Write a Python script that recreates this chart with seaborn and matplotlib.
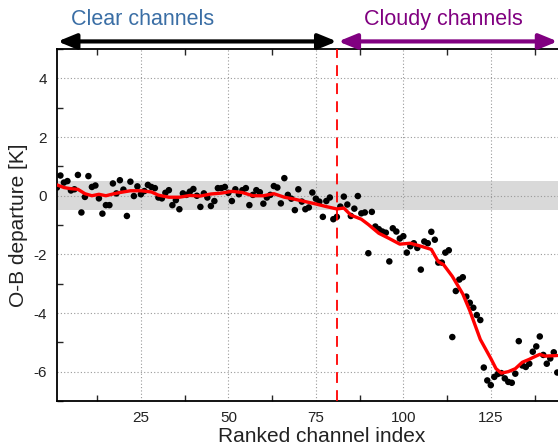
import matplotlib
matplotlib.use('Agg')
import matplotlib.pyplot as plt
import numpy as np
import pandas as pd
import seaborn as sns
from matplotlib.ticker import MultipleLocator

# O-B departures per ranked channel (black dots)
channels = np.arange(1, 145)
departures = [
    0.28, 0.69, 0.45, 0.50, 0.18, 0.22, 0.71, -0.57, -0.04, 0.67,
    0.30, 0.35, -0.09, -0.61, -0.32, -0.32, 0.42, 0.08, 0.53, 0.21,
    -0.69, 0.48, -0.01, 0.32, 0.05, 0.16, 0.37, 0.30, 0.26, -0.06,
    -0.09, 0.10, 0.19, -0.32, -0.15, -0.46, 0.08, 0.03, 0.14, 0.23,
    0.00, -0.38, 0.08, -0.06, -0.35, -0.18, 0.26, 0.26, 0.30, 0.10,
    -0.18, 0.22, 0.05, 0.19, 0.26, -0.32, 0.03, 0.19, 0.12, -0.27,
    -0.06, 0.03, 0.33, 0.28, -0.26, 0.60, 0.03, -0.10, -0.49, 0.22,
    -0.20, -0.46, -0.40, 0.11, -0.10, -0.20, -0.72, -0.18, -0.06, -0.80,
    -0.72, -0.37, -0.03, -0.30, -0.69, -0.44, -0.01, -0.60, -0.57, -1.96,
    -0.55, -1.05, -1.14, -1.22, -1.26, -2.24, -1.11, -1.22, -1.46, -1.38,
    -1.94, -1.72, -1.62, -1.78, -2.52, -1.56, -1.62, -1.23, -1.50, -2.28,
    -2.28, -1.94, -1.86, -4.82, -3.25, -2.86, -2.78, -3.44, -3.65, -3.82,
    -4.07, -4.24, -5.86, -6.30, -6.46, -6.18, -6.08, -6.05, -6.23, -6.35,
    -6.38, -6.07, -4.96, -5.79, -5.84, -5.73, -5.32, -5.14, -4.80, -5.43,
    -5.73, -5.55, -5.34, -6.03,
]

# smoothed departure (red curve)
smooth_ch = [1, 3, 5, 7, 9, 11, 13, 15, 17, 19, 22, 25, 28, 30, 33, 36, 39,
             42, 45, 48, 51, 54, 57, 60, 63, 66, 69, 72, 75, 78, 81, 83, 85,
             88, 90, 93, 96, 99, 102, 105, 108, 110, 111.5, 114, 117, 119,
             122, 125, 126.5, 128, 130, 132, 134, 136, 137, 139, 140.5, 144]
smooth_val = [0.37, 0.28, 0.24, 0.22, 0.07, 0.0, 0.05, 0.0, 0.06, 0.11, 0.17,
              0.17, 0.13, 0.02, -0.05, -0.05, 0.01, -0.01, 0.06, 0.09, 0.15,
              0.11, 0.0, 0.0, 0.07, -0.05, -0.12, -0.2, -0.28, -0.37, -0.45,
              -0.42, -0.66, -0.8, -0.98, -1.28, -1.46, -1.65, -1.62, -1.72,
              -1.83, -2.25, -2.35, -2.75, -3.35, -3.92, -4.9, -5.55, -5.9,
              -6.05, -6.0, -5.9, -5.68, -5.58, -5.52, -5.41, -5.47, -5.45]

x_ticks = [25, 50, 75, 100, 125]
split_channel = 81
band = (-0.5, 0.5)

sns.set_style('ticks')
plt.rcParams['font.family'] = ['Liberation Sans', 'DejaVu Sans']
plt.rcParams['axes.unicode_minus'] = False

fig = plt.figure(figsize=(5.58, 4.47), dpi=100)
ax = fig.add_axes([0.102, 0.103, 0.95, 0.787])

ax.axhspan(*band, color='#d9d9d9', lw=0, zorder=0)

dots = pd.DataFrame({'channel': channels, 'omb': departures})
sns.scatterplot(data=dots, x='channel', y='omb', ax=ax, color='black',
                s=22, edgecolor='none', zorder=3)
smooth = pd.DataFrame({'channel': smooth_ch, 'omb': smooth_val})
sns.lineplot(data=smooth, x='channel', y='omb', ax=ax, color='red', lw=2.4,
             zorder=4)

ax.axvline(split_channel, color='red', lw=1.3, ls=(0, (6, 4)), zorder=5)

ax.set_xlim(1, 152.5)
ax.set_ylim(-7, 5)
ax.set_xticks(x_ticks)
ax.xaxis.set_minor_locator(MultipleLocator(25, offset=12.5))
ax.yaxis.set_major_locator(MultipleLocator(2))
ax.yaxis.set_minor_locator(MultipleLocator(2, offset=1))
ax.grid(True, which='major', ls=(0, (1, 2)), color='#999999', lw=0.8)
ax.tick_params(which='major', length=0, labelsize=11, pad=7, colors='#222222')
ax.tick_params(which='minor', direction='in', length=4, width=1,
               top=True, bottom=True, left=True)
for s in ax.spines.values():
    s.set_linewidth(1.3)
    s.set_color('black')

ax.set_xlabel('Ranked channel index', fontsize=15, labelpad=2, color='#222222')
ax.set_ylabel('O-B departure [K]', fontsize=15, labelpad=4, color='#222222')

# arrows above the axes marking clear / cloudy channel ranges
trans = ax.get_xaxis_transform()
ax.annotate('', xy=(1.2, 1.022), xytext=(split_channel, 1.022),
            xycoords=trans, textcoords=trans, annotation_clip=False,
            arrowprops=dict(arrowstyle='<|-|>,head_length=1.1,head_width=0.45',
                            color='black', lw=3, shrinkA=0, shrinkB=0))
ax.annotate('', xy=(split_channel + 0.4, 1.022), xytext=(144.1, 1.022),
            xycoords=trans, textcoords=trans, annotation_clip=False,
            arrowprops=dict(arrowstyle='<|-|>,head_length=1.1,head_width=0.45',
                            color='#800080', lw=3, shrinkA=0, shrinkB=0))

fig.text(143 / 558, 1 - 25 / 447, 'Clear channels', color='#3a6ea5',
         fontsize=15.5, ha='center', va='baseline')
fig.text(443 / 558, 1 - 25 / 447, 'Cloudy channels', color='#800080',
         fontsize=15.5, ha='center', va='baseline')

fig.savefig('out.png', dpi=100)
